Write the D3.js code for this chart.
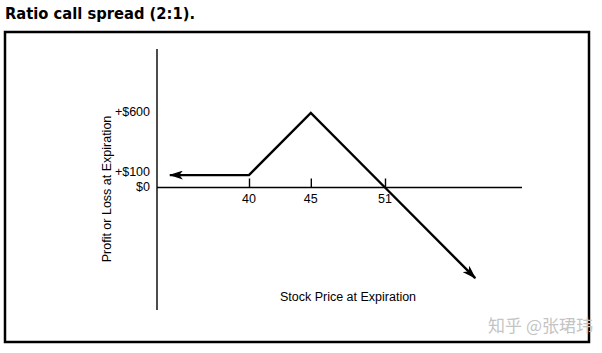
<!DOCTYPE html>
<html>
<head>
<meta charset="utf-8">
<script src="https://cdn.jsdelivr.net/npm/d3@7"></script>
<style>
  body { margin: 0; background: #fff; }
  svg { display: block; }
</style>
</head>
<body>
<script>
// payoff points of the 2:1 ratio call spread (stock price, profit)
var prices = [33.6, 40, 45, 51, 58.3];
var profits = [100, 100, 600, 0, -730];
// x ticks (strikes / breakeven)
var xTicks = [40, 45, 51];
// y tick labels
var yTicks = [600, 100, 0];
var yTickLabels = ["+$600", "+$100", "$0"];

var svg = d3.select("body")
  .append("svg")
  .attr("width", 602)
  .attr("height", 353);

//title
svg.append("text")
  .attr("x", 5)
  .attr("y", 19)
  .style("font-family", "'DejaVu Sans', sans-serif")
  .style("font-weight", "bold")
  .style("font-size", "16px")
  .attr("textLength", 190)
  .attr("lengthAdjust", "spacingAndGlyphs")
  .text("Ratio call spread (2:1).");

//frame
svg.append("rect")
  .attr("x", 5)
  .attr("y", 32)
  .attr("width", 584)
  .attr("height", 310)
  .style("fill", "none")
  .style("stroke", "#000")
  .style("stroke-width", 2.5);

//scales
var x = d3.scaleLinear()
  .domain([40, 51])
  .range([249, 385]);
var y = d3.scaleLinear()
  .domain([0, 600])
  .range([187.5, 113]);

var arrowDefs = svg.append("defs");
arrowDefs.append("marker")
  .attr("id", "arrow")
  .attr("viewBox", "0 0 14 9")
  .attr("refX", 13)
  .attr("refY", 4.5)
  .attr("markerWidth", 14)
  .attr("markerHeight", 9)
  .attr("markerUnits", "userSpaceOnUse")
  .attr("orient", "auto-start-reverse")
  .append("path")
  .attr("d", "M0,0 L14,4.5 L0,9 L3.5,4.5 Z")
  .style("fill", "#000");

//y axis line
svg.append("line")
  .attr("x1", 157).attr("x2", 157)
  .attr("y1", 49).attr("y2", 310)
  .style("stroke", "#000")
  .style("stroke-width", 1.4);

//x axis line
svg.append("line")
  .attr("x1", 157).attr("x2", 522)
  .attr("y1", y(0)).attr("y2", y(0))
  .style("stroke", "#000")
  .style("stroke-width", 1.4);

//x ticks drawn upward from the axis
var xAxis = d3.axisTop(x)
  .tickValues(xTicks)
  .tickSize(9)
  .tickFormat("");
var gx = svg.append("g")
  .attr("transform", "translate(0," + y(0) + ")")
  .call(xAxis);
gx.select(".domain").remove();
gx.selectAll(".tick line").style("stroke-width", 1.4);

svg.selectAll(".xlab")
  .data(xTicks)
  .enter()
  .append("text")
  .attr("class", "xlab")
  .attr("x", function(d){ return x(d); })
  .attr("y", 203)
  .attr("text-anchor", "middle")
  .style("font-family", "'Liberation Sans', Arial, sans-serif")
  .style("font-size", "12.5px")
  .text(function(d){ return d; });

//y tick labels
svg.selectAll(".ylab")
  .data(yTicks)
  .enter()
  .append("text")
  .attr("class", "ylab")
  .attr("x", 150)
  .attr("y", function(d){
    if (d === 100) return y(d) + 1;
    return y(d) + 3;
  })
  .attr("text-anchor", "end")
  .style("font-family", "'Liberation Sans', Arial, sans-serif")
  .style("font-size", "12.5px")
  .text(function(d, i){ return yTickLabels[i]; });

//axis titles
svg.append("text")
  .attr("x", 348)
  .attr("y", 301)
  .attr("text-anchor", "middle")
  .style("font-family", "'Liberation Sans', Arial, sans-serif")
  .style("font-size", "12.5px")
  .text("Stock Price at Expiration");

svg.append("text")
  .attr("transform", "translate(111,189) rotate(-90)")
  .attr("text-anchor", "middle")
  .style("font-family", "'Liberation Sans', Arial, sans-serif")
  .style("font-size", "12.5px")
  .text("Profit or Loss at Expiration");

//payoff line
var payoff = prices.map(function(p, i){ return [p, profits[i]]; });
var line = d3.line()
  .x(function(d){ return x(d[0]); })
  .y(function(d){ return y(d[1]); });
svg.append("path")
  .datum(payoff)
  .attr("d", line)
  .style("fill", "none")
  .style("stroke", "#000")
  .style("stroke-width", 2.4)
  .attr("marker-start", "url(#arrow)")
  .attr("marker-end", "url(#arrow)");

//watermark
svg.append("text")
  .attr("x", 593)
  .attr("y", 332)
  .attr("text-anchor", "end")
  .style("font-family", "'Noto Sans CJK SC', sans-serif")
  .style("font-size", "17px")
  .style("fill", "#c4c4c4")
  .text("知乎 @张珺玮");
</script>
</body>
</html>
